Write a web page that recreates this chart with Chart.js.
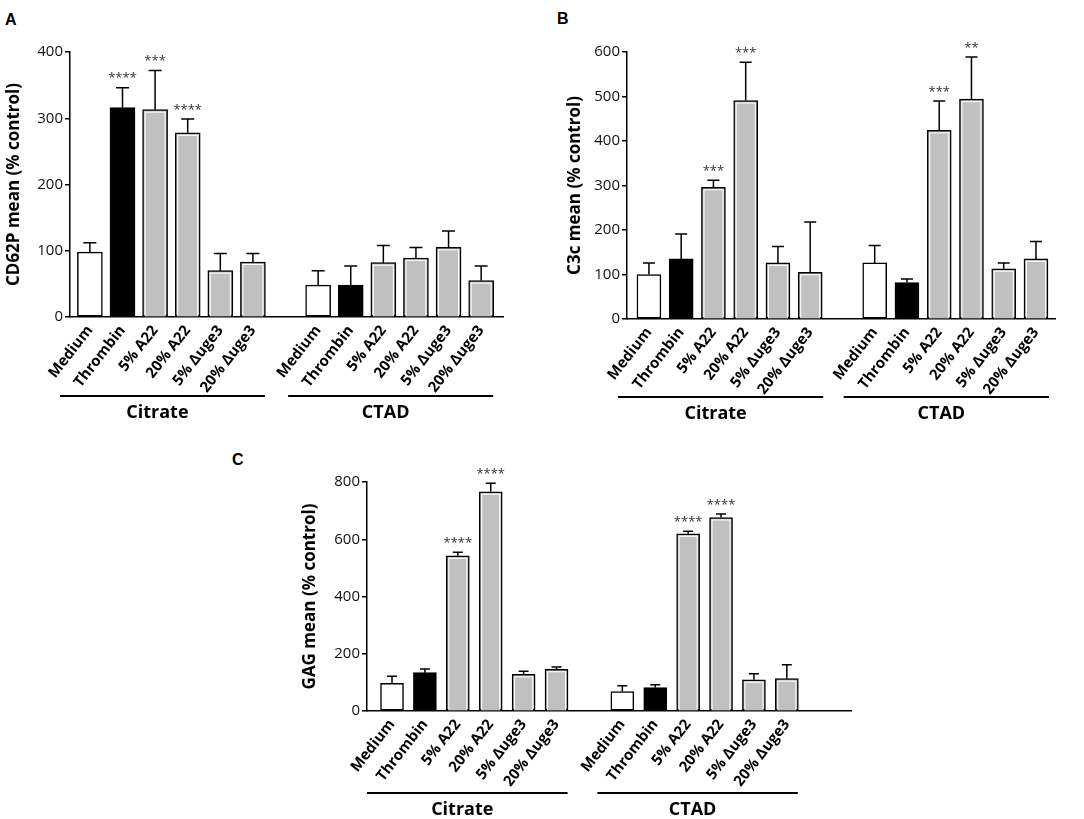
<!DOCTYPE html>
<html>
<head>
<meta charset="utf-8">
<script src="https://cdn.jsdelivr.net/npm/chart.js@4.4.1/dist/chart.umd.min.js"></script>
<style>
  body { margin: 0; background: #fff; width: 1084px; height: 819px; position: relative; overflow: hidden; }
  .panel { position: absolute; }
  .letter { position: absolute; font: bold 16px Arial, "Liberation Sans", sans-serif; color: #000; }
</style>
</head>
<body>
<div class="letter" style="left:5px;top:11px">A</div>
<div class="letter" style="left:557px;top:10px">B</div>
<div class="letter" style="left:232px;top:451px">C</div>

<canvas class="panel" id="chartA" width="540" height="430" style="left:0;top:0"></canvas>
<canvas class="panel" id="chartB" width="523" height="430" style="left:561px;top:0"></canvas>
<canvas class="panel" id="chartC" width="564" height="399" style="left:296px;top:420px"></canvas>

<script>
// categories (same in every panel and both anticoagulants)
var labels = ["Medium", "Thrombin", "5% A22", "20% A22", "5% \u0394uge3", "20% \u0394uge3"];
var groups = ["Citrate", "CTAD"];
var grayFill = "#c0c0c0";
var barColors = ["#ffffff", "#000000", grayFill, grayFill, grayFill, grayFill];

// A - CD62P mean (% control)
var cd62pCitrate   = [98, 316, 313, 278, 70, 83];
var cd62pCitrateSD = [14, 30, 59, 21, 26, 13];
var cd62pCtad      = [48, 48, 82, 89, 105, 55];
var cd62pCtadSD    = [22, 29, 26, 16, 25, 22];
var cd62pStarsCitrate = ["", "****", "***", "****", "", ""];
var cd62pStarsCtad    = ["", "", "", "", "", ""];
var cd62pTicks = [0, 100, 200, 300, 400];

// B - C3c mean (% control)
var c3cCitrate   = [100, 135, 296, 491, 126, 105];
var c3cCitrateSD = [26, 56, 16, 86, 37, 113];
var c3cCtad      = [126, 82, 424, 494, 113, 135];
var c3cCtadSD    = [39, 8, 66, 95, 13, 39];
var c3cStarsCitrate = ["", "", "***", "***", "", ""];
var c3cStarsCtad    = ["", "", "***", "**", "", ""];
var c3cTicks = [0, 100, 200, 300, 400, 500, 600];

// C - GAG mean (% control)
var gagCitrate   = [97, 134, 542, 766, 128, 146];
var gagCitrateSD = [24, 13, 13, 30, 11, 8];
var gagCtad      = [68, 82, 619, 676, 109, 113];
var gagCtadSD    = [20, 10, 9, 12, 21, 49];
var gagStarsCitrate = ["", "", "****", "****", "", ""];
var gagStarsCtad    = ["", "", "****", "****", "", ""];
var gagTicks = [0, 200, 400, 600, 800];

// 6 citrate slots, one empty slot, 6 CTAD slots
var tickText = labels.concat([""], labels);

function points(citrate, ctad) {
  var pts = [];
  citrate.forEach(function (v, i) { pts.push({ x: i, y: v }); });
  ctad.forEach(function (v, i) { pts.push({ x: i + 7, y: v }); });
  return pts;
}

// error bars, asterisks, and the Citrate / CTAD brackets
var extras = {
  id: 'extras',
  afterDatasetsDraw: function (chart, args, opts) {
    var ctx = chart.ctx;
    var ds = chart.data.datasets[0];
    var meta = chart.getDatasetMeta(0);
    var ys = chart.scales.y, xs = chart.scales.x;
    ctx.save();
    meta.data.forEach(function (bar, i) {
      var p = ds.data[i];
      var w = bar.width;
      if (ds.backgroundColor[i] === grayFill) {
        ctx.strokeStyle = '#ffffff';
        ctx.lineWidth = 1;
        ctx.strokeRect(bar.x - w / 2 + 2.5, bar.y + 2.5, w - 5, bar.base - bar.y - 3);
      }
      var top = ys.getPixelForValue(p.y + ds.sd[i]);
      ctx.strokeStyle = '#000';
      ctx.lineWidth = 1.5;
      ctx.beginPath();
      ctx.moveTo(bar.x, bar.y);
      ctx.lineTo(bar.x, top);
      ctx.moveTo(bar.x - opts.cap, top);
      ctx.lineTo(bar.x + opts.cap, top);
      ctx.stroke();
      if (ds.stars[i]) {
        ctx.fillStyle = '#333';
        ctx.font = '13px "Open Sans"';
        ctx.textAlign = 'center';
        ctx.textBaseline = 'middle';
        ctx.fillText(ds.stars[i], bar.x, top - 9);
      }
    });
    var y = chart.chartArea.bottom + opts.lineOffset;
    [[0, 5], [7, 12]].forEach(function (r, g) {
      var x1 = xs.getPixelForValue(r[0]) - opts.left;
      var x2 = xs.getPixelForValue(r[1]) + opts.right;
      ctx.strokeStyle = '#000';
      ctx.lineWidth = 2.2;
      ctx.beginPath();
      ctx.moveTo(x1, y);
      ctx.lineTo(x2, y);
      ctx.stroke();
      ctx.font = 'bold 18px "Open Sans"';
      ctx.fillStyle = '#000';
      ctx.textAlign = 'center';
      ctx.textBaseline = 'middle';
      ctx.fillText(groups[g], (x1 + x2) / 2 - 5, y + 17);
    });
    ctx.restore();
  }
};

function makePanel(id, p) {
  return new Chart(id, {
    type: 'bar',
    data: {
      datasets: [{
        data: points(p.citrate, p.ctad),
        sd: p.citrateSD.concat(p.ctadSD),
        stars: p.starsCitrate.concat(p.starsCtad),
        backgroundColor: barColors.concat(barColors),
        borderColor: '#000',
        borderWidth: 1.5,
        borderSkipped: false,
        barThickness: p.barWidth
      }]
    },
    options: {
      responsive: false,
      animation: false,
      events: [],
      layout: { padding: { top: p.top, right: p.right, left: 0, bottom: 0 } },
      plugins: {
        legend: { display: false },
        tooltip: { enabled: false },
        extras: { cap: p.cap, lineOffset: p.lineOffset, left: p.lineLeft, right: p.lineRight }
      },
      scales: {
        x: {
          type: 'linear',
          offset: false,
          min: p.xmin,
          max: p.xmax,
          afterBuildTicks: function (s) {
            s.ticks = tickText.map(function (t, i) { return { value: i }; });
          },
          afterFit: function (s) { s.height = p.xHeight; },
          grid: { display: false, drawTicks: false },
          border: { color: '#000', width: 1.5 },
          ticks: {
            autoSkip: false,
            minRotation: 52,
            maxRotation: 52,
            padding: 5,
            color: '#000',
            font: { family: 'Open Sans', size: 15, weight: 'bold' },
            callback: function (v) { return tickText[v] || ''; }
          }
        },
        y: {
          min: 0,
          max: p.ticks[p.ticks.length - 1],
          afterFit: function (s) { s.width = p.yWidth; },
          afterBuildTicks: function (s) { s.ticks = p.ticks.map(function (v) { return { value: v }; }); },
          grid: { display: true, drawOnChartArea: false, drawTicks: true, tickLength: 5, color: '#000', lineWidth: 1.5 },
          border: { color: '#000', width: 1.5 },
          ticks: { padding: 2, color: '#111', font: { family: 'Open Sans', size: 15 } },
          title: { display: true, text: p.title, color: '#000', font: { family: 'Open Sans', size: 17, weight: 'bold' } }
        }
      }
    },
    plugins: [extras]
  });
}

makePanel('chartA', {
  title: 'CD62P mean (% control)', ticks: cd62pTicks,
  citrate: cd62pCitrate, citrateSD: cd62pCitrateSD, ctad: cd62pCtad, ctadSD: cd62pCtadSD,
  starsCitrate: cd62pStarsCitrate, starsCtad: cd62pStarsCtad,
  xmin: -0.61, xmax: 12.67, yWidth: 70, xHeight: 113, top: 52, right: 37,
  barWidth: 25, cap: 6.5, lineOffset: 79, lineLeft: 30, lineRight: 12
});

makePanel('chartB', {
  title: 'C3c mean (% control)', ticks: c3cTicks,
  citrate: c3cCitrate, citrateSD: c3cCitrateSD, ctad: c3cCtad, ctadSD: c3cCtadSD,
  starsCitrate: c3cStarsCitrate, starsCtad: c3cStarsCtad,
  xmin: -0.68, xmax: 12.59, yWidth: 66, xHeight: 111, top: 52, right: 29,
  barWidth: 24, cap: 6, lineOffset: 78, lineLeft: 31, lineRight: 13
});

makePanel('chartC', {
  title: 'GAG mean (% control)', ticks: gagTicks,
  citrate: gagCitrate, citrateSD: gagCitrateSD, ctad: gagCtad, ctadSD: gagCtadSD,
  starsCitrate: gagStarsCitrate, starsCtad: gagStarsCtad,
  xmin: -0.76, xmax: 13.95, yWidth: 71, xHeight: 108, top: 62, right: 9,
  barWidth: 23, cap: 5, lineOffset: 82, lineLeft: 25, lineRight: 11
});
</script>
</body>
</html>
